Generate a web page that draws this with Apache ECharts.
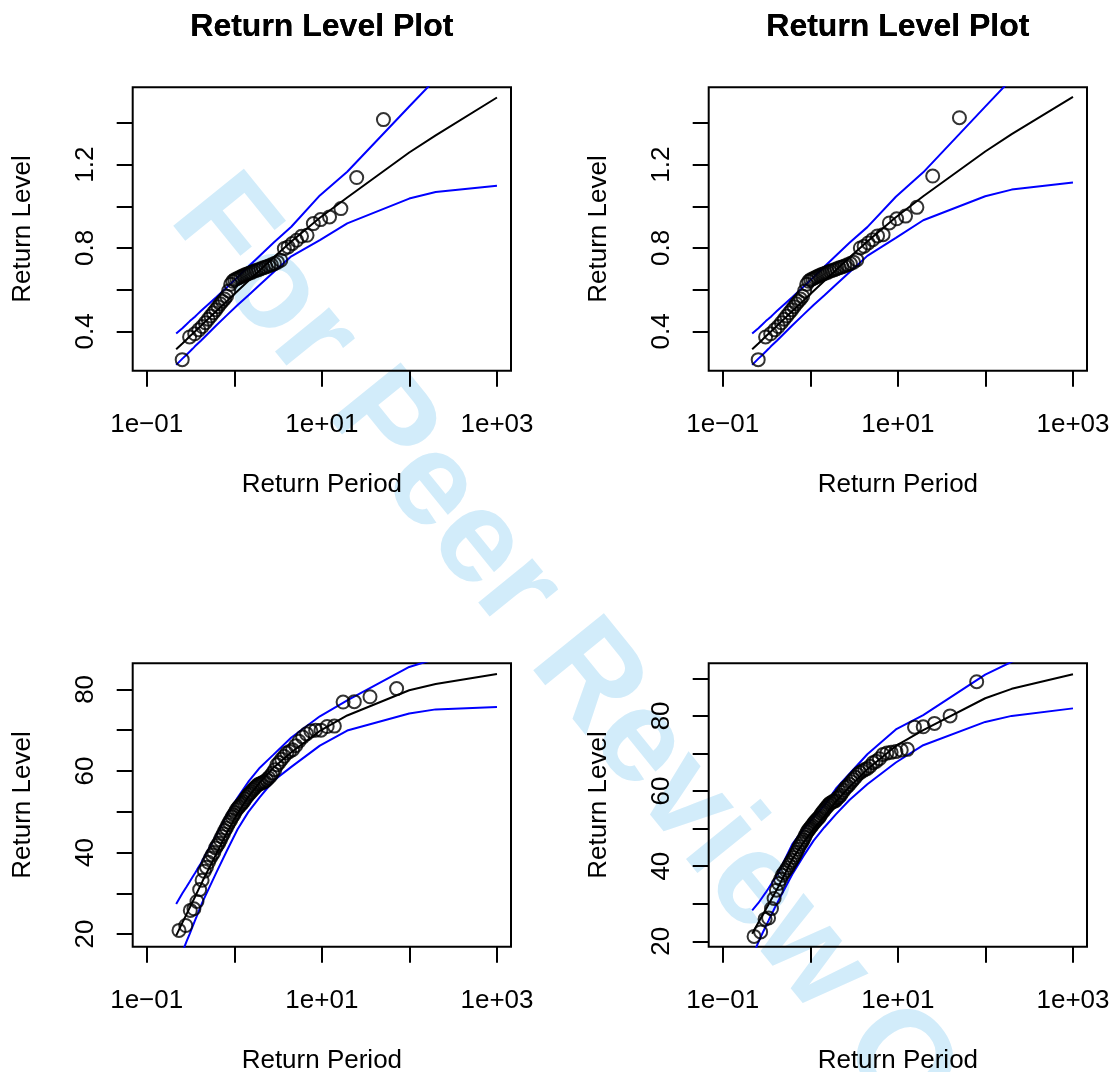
<!DOCTYPE html>
<html>
<head>
<meta charset="utf-8">
<script src="https://cdn.jsdelivr.net/npm/echarts@6/dist/echarts.min.js"></script>
<style>
html,body{margin:0;padding:0;background:#ffffff;}
#chart{width:1115px;height:1072px;}
</style>
</head>
<body>
<div id="chart"></div>
<script>
// ---------- DATA ----------
// return periods at which the fitted return level curve and its 95% band are drawn
const curvePeriods = [0.2171,0.2556,0.2852,0.3107,0.3338,0.3554,0.3760,0.3959,0.4153,0.4343,0.6213,0.8306,1.0914,1.4427,1.9576,2.8037,4.4814,9.4912,19.496,99.499,199.50,999.50];

// panel 1 (top left)
const p1Fit   = [0.314,0.342,0.361,0.376,0.388,0.399,0.409,0.418,0.426,0.434,0.496,0.546,0.593,0.641,0.693,0.754,0.831,0.945,1.042,1.258,1.340,1.522];
const p1Lower = [0.239,0.269,0.288,0.303,0.316,0.328,0.338,0.347,0.355,0.364,0.428,0.479,0.526,0.572,0.623,0.683,0.760,0.838,0.918,1.037,1.069,1.099];
const p1Upper = [0.389,0.415,0.434,0.449,0.460,0.470,0.480,0.489,0.497,0.504,0.564,0.613,0.660,0.710,0.763,0.825,0.902,1.052,1.166,1.479,1.611,1.945];
const p1Periods = [0.2543,0.3088,0.3530,0.3928,0.4306,0.4673,0.5036,0.5398,0.5765,0.6138,0.6519,0.6911,0.7316,0.7736,0.8172,0.8627,0.9102,0.9602,1.0128,1.0683,1.1270,1.1893,1.2558,1.3268,1.4027,1.4843,1.5723,1.6678,1.7715,1.8847,2.0088,2.1455,2.2973,2.4667,2.6560,2.8711,3.1162,3.3990,3.7286,4.1169,4.5830,5.1520,5.8617,6.7751,7.9936,9.6899,12.240,16.502,25.000,50.505];
const p1Levels  = [0.264,0.373,0.388,0.407,0.423,0.441,0.458,0.474,0.489,0.503,0.518,0.532,0.544,0.555,0.568,0.594,0.626,0.640,0.648,0.652,0.657,0.662,0.667,0.671,0.675,0.679,0.683,0.688,0.692,0.696,0.700,0.705,0.709,0.714,0.719,0.725,0.732,0.741,0.797,0.805,0.821,0.837,0.856,0.861,0.917,0.936,0.949,0.989,1.138,1.416];

// panel 2 (top right)
const p2Fit   = [0.314,0.342,0.361,0.376,0.388,0.399,0.409,0.418,0.426,0.434,0.496,0.546,0.593,0.641,0.693,0.754,0.831,0.947,1.048,1.263,1.346,1.525];
const p2Lower = [0.239,0.269,0.288,0.303,0.316,0.328,0.338,0.347,0.355,0.364,0.428,0.479,0.526,0.572,0.623,0.683,0.762,0.848,0.933,1.048,1.080,1.114];
const p2Upper = [0.389,0.415,0.434,0.449,0.460,0.470,0.480,0.489,0.497,0.504,0.564,0.613,0.660,0.710,0.763,0.825,0.900,1.046,1.163,1.478,1.612,1.936];
const p2Periods = p1Periods.slice();
const p2Levels  = [0.264,0.373,0.388,0.407,0.423,0.441,0.458,0.474,0.489,0.503,0.518,0.532,0.544,0.555,0.568,0.594,0.626,0.640,0.648,0.652,0.657,0.662,0.667,0.671,0.675,0.679,0.683,0.688,0.692,0.696,0.700,0.705,0.709,0.714,0.719,0.725,0.732,0.743,0.800,0.808,0.824,0.840,0.858,0.864,0.920,0.940,0.953,0.995,1.145,1.425];

// panel 3 (bottom left)
const p3Fit   = [19.6,22.8,24.9,26.5,27.9,29.1,30.2,31.2,32.1,33.0,39.6,45.0,49.6,53.6,57.2,60.8,64.6,69.8,73.6,79.8,81.3,83.8];
const p3Lower = [11.8,15.6,18.2,20.1,21.8,23.3,24.6,25.8,26.9,27.9,35.0,40.6,45.7,49.9,53.6,57.6,61.0,66.2,69.9,74.1,75.1,75.7];
const p3Upper = [27.4,30.0,31.6,32.9,34.0,34.9,35.8,36.6,37.3,38.1,44.2,49.4,53.5,57.3,60.8,64.0,68.2,73.4,77.3,85.5,87.5,91.9];
const p3Periods = [0.2338,0.2791,0.3147,0.3460,0.3749,0.4024,0.4290,0.4551,0.4809,0.5066,0.5323,0.5581,0.5842,0.6107,0.6375,0.6648,0.6928,0.7213,0.7506,0.7807,0.8116,0.8434,0.8763,0.9102,0.9454,0.9817,1.0196,1.0588,1.0996,1.1422,1.1867,1.2332,1.2817,1.3328,1.3864,1.4427,1.5020,1.5647,1.6310,1.7013,1.7759,1.8553,1.9399,2.0305,2.1277,2.2321,2.3447,2.4661,2.5988,2.7427,2.9002,3.0731,3.2648,3.4758,3.7133,3.9793,4.2808,4.6253,5.0226,5.4855,6.0350,6.6890,7.4906,8.4890,9.7752,11.494,13.889,17.483,23.474,35.461,71.43];
const p3Levels  = [20.9,22.1,25.8,26.2,28.0,30.9,33.2,35.4,36.4,37.6,38.6,39.4,40.0,41.1,41.7,42.3,43.1,43.9,44.6,45.4,46.0,46.8,47.4,48.0,48.7,49.2,49.8,50.5,50.9,51.3,51.7,52.1,52.5,53.1,53.6,54.1,54.5,54.9,55.4,55.8,56.2,56.6,56.8,57.0,57.2,57.4,57.8,58.3,58.8,59.5,60.3,61.5,62.1,62.9,63.6,64.4,64.8,65.2,66.2,67.3,68.3,69.1,69.8,70.0,70.0,70.9,71.0,76.9,77.0,78.2,80.2];

// panel 4 (bottom right)
const p4Fit   = [22.0,25.0,27.0,28.5,29.8,31.0,32.0,32.9,33.8,34.6,41.8,46.2,49.9,53.2,57.2,61.1,65.8,72.0,76.2,84.7,87.2,91.1];
const p4Lower = [15.8,19.8,22.2,24.0,25.5,26.9,28.0,29.1,30.0,30.9,37.8,42.6,46.8,50.3,53.8,57.6,61.8,67.6,72.2,78.4,80.0,82.0];
const p4Upper = [28.2,30.2,31.8,33.0,34.1,35.1,36.0,36.7,37.6,38.3,45.8,49.8,53.0,56.1,60.6,64.6,69.8,76.4,80.2,91.0,94.4,100.2];
const p4Periods = [0.2282,0.2711,0.3046,0.3338,0.3607,0.3861,0.4105,0.4343,0.4577,0.4809,0.5040,0.5271,0.5503,0.5738,0.5974,0.6213,0.6457,0.6704,0.6956,0.7213,0.7477,0.7746,0.8023,0.8306,0.8598,0.8898,0.9206,0.9526,0.9855,1.020,1.055,1.091,1.129,1.169,1.210,1.252,1.297,1.343,1.392,1.443,1.496,1.552,1.611,1.673,1.738,1.807,1.880,1.958,2.040,2.128,2.221,2.321,2.429,2.545,2.669,2.804,2.951,3.109,3.284,3.476,3.689,3.923,4.186,4.482,4.817,5.200,5.640,6.154,6.761,7.491,8.382,9.497,10.93,12.84,15.50,19.49,26.2,39.5,79.5];
const p4Levels  = [21.3,22.5,25.9,26.2,28.7,31.4,33.6,35.4,36.5,37.6,38.3,38.9,39.6,40.3,41.0,41.6,42.3,43.0,43.7,44.5,45.2,45.9,46.4,47.0,47.7,48.4,49.1,49.6,50.0,50.5,50.9,51.4,51.8,52.2,52.6,52.9,53.4,54.0,54.5,54.9,55.4,55.8,56.3,56.7,56.9,57.2,57.3,57.5,58.1,58.4,58.9,59.6,60.2,60.9,61.3,61.8,62.5,63.1,63.7,64.4,64.9,65.3,65.7,66.0,66.6,67.5,67.9,68.6,69.7,70.1,70.3,70.5,70.9,71.1,77.0,77.1,78.0,80.0,89.1];

// tick values
const xTickPeriods  = [0.1, 1, 10, 100, 1000];
const xLabelPeriods = [0.1, 10, 1000];
const yTicksTop    = [0.4, 0.6, 0.8, 1.0, 1.2, 1.4];
const yLabelsTop   = [0.4, 0.8, 1.2];
const yTicksBL     = [20, 30, 40, 50, 60, 70, 80];
const yLabelsBL    = [20, 40, 60, 80];
const yTicksBR     = [20, 30, 40, 50, 60, 70, 80, 90];
const yLabelsBR    = [20, 40, 60, 80];

const titleText = 'Return Level Plot';
const xName = 'Return Period';
const yName = 'Return Level';
const watermarkText = 'For Peer Review Only';

// ---------- CHART ----------
const FONT = '"Liberation Sans", Arial, Helvetica, sans-serif';
const lg = v => Math.log10(v);
function sciLabel(v) {
  const e = Math.round(v);
  return '1e' + (e < 0 ? '\u2212' : '+') + String(Math.abs(e)).padStart(2, '0');
}

const boxW = 378.3, boxH = 283.4;
const panels = [
  {left:132.7, top:87.3,  ymin:0.211, ymax:1.571, yt:yTicksTop, yl:yLabelsTop, dec:1, per:p1Periods, lev:p1Levels, fit:p1Fit, lo:p1Lower, up:p1Upper},
  {left:708.7, top:87.3,  ymin:0.211, ymax:1.571, yt:yTicksTop, yl:yLabelsTop, dec:1, per:p2Periods, lev:p2Levels, fit:p2Fit, lo:p2Lower, up:p2Upper},
  {left:132.7, top:663.3, ymin:16.9,  ymax:86.4,  yt:yTicksBL,  yl:yLabelsBL,  dec:0, per:p3Periods, lev:p3Levels, fit:p3Fit, lo:p3Lower, up:p3Upper},
  {left:708.7, top:663.3, ymin:18.56, ymax:94.0,  yt:yTicksBR,  yl:yLabelsBR,  dec:0, per:p4Periods, lev:p4Levels, fit:p4Fit, lo:p4Lower, up:p4Upper}
];

const LW = 2;
const WM_ANGLE = 51 * Math.PI / 180;
const option = {
  animation: false,
  backgroundColor: '#ffffff',
  textStyle: {fontFamily: FONT},
  title: [], grid: [], xAxis: [], yAxis: [], series: [],
  graphic: [{
    type: 'text', z: -10, silent: true,
    x: 196, y: 196, rotation: -WM_ANGLE,
    style: {text: watermarkText, fill: '#d2ecfa', font: 'bold 132px ' + FONT, align: 'left', verticalAlign: 'middle'}
  }]
};

panels.forEach((p, i) => {
  option.title.push({
    text: titleText, left: p.left + boxW / 2, top: 11, textAlign: 'center', padding: 0,
    textStyle: {fontFamily: FONT, fontSize: 32, fontWeight: 'bold', color: '#000', lineHeight: 32}
  });
  option.grid.push({
    left: p.left, top: p.top, width: boxW, height: boxH,
    show: true, borderColor: '#000', borderWidth: 2, backgroundColor: 'transparent',
    containLabel: false, outerBoundsMode: 'none'
  });
  option.xAxis.push({
    gridIndex: i, type: 'value', min: -1.16, max: 3.16,
    name: xName, nameLocation: 'middle', nameGap: 101,
    nameTextStyle: {fontFamily: FONT, fontSize: 26, color: '#000', lineHeight: 26},
    axisLine: {show: false, onZero: false}, splitLine: {show: false},
    axisTick: {show: true, length: 16, customValues: xTickPeriods.map(lg), lineStyle: {color: '#000', width: 2}},
    axisLabel: {show: true, margin: 41, customValues: xLabelPeriods.map(lg), formatter: sciLabel,
                fontFamily: FONT, fontSize: 26, color: '#000', lineHeight: 26}
  });
  option.yAxis.push({
    gridIndex: i, type: 'value', min: p.ymin, max: p.ymax,
    name: yName, nameLocation: 'middle', nameGap: 97, nameRotate: 90,
    nameTextStyle: {fontFamily: FONT, fontSize: 26, color: '#000', lineHeight: 26},
    axisLine: {show: false, onZero: false}, splitLine: {show: false},
    axisTick: {show: true, length: 16, customValues: p.yt, lineStyle: {color: '#000', width: 2}},
    axisLabel: {show: true, rotate: 90, margin: 34, customValues: p.yl,
                formatter: v => v.toFixed(p.dec),
                fontFamily: FONT, fontSize: 26, color: '#000', lineHeight: 26}
  });
  const mk = (vals, color) => ({
    type: 'line', xAxisIndex: i, yAxisIndex: i, silent: true, z: 3,
    data: curvePeriods.map((t, k) => [lg(t), vals[k]]),
    showSymbol: false, symbol: 'none', smooth: false, clip: true,
    lineStyle: {color: color, width: LW}
  });
  option.series.push(mk(p.fit, '#000000'));
  option.series.push(mk(p.up, '#0000ff'));
  option.series.push(mk(p.lo, '#0000ff'));
  option.series.push({
    type: 'scatter', xAxisIndex: i, yAxisIndex: i, silent: true, z: 4, clip: true,
    data: p.per.map((t, k) => [lg(t), p.lev[k]]),
    symbol: 'circle', symbolSize: 13,
    itemStyle: {color: 'rgba(0,0,0,0)', borderColor: '#000', borderWidth: LW}
  });
});

const chart = echarts.init(document.getElementById('chart'), null, {renderer: 'canvas'});
chart.setOption(option);
</script>
</body>
</html>
